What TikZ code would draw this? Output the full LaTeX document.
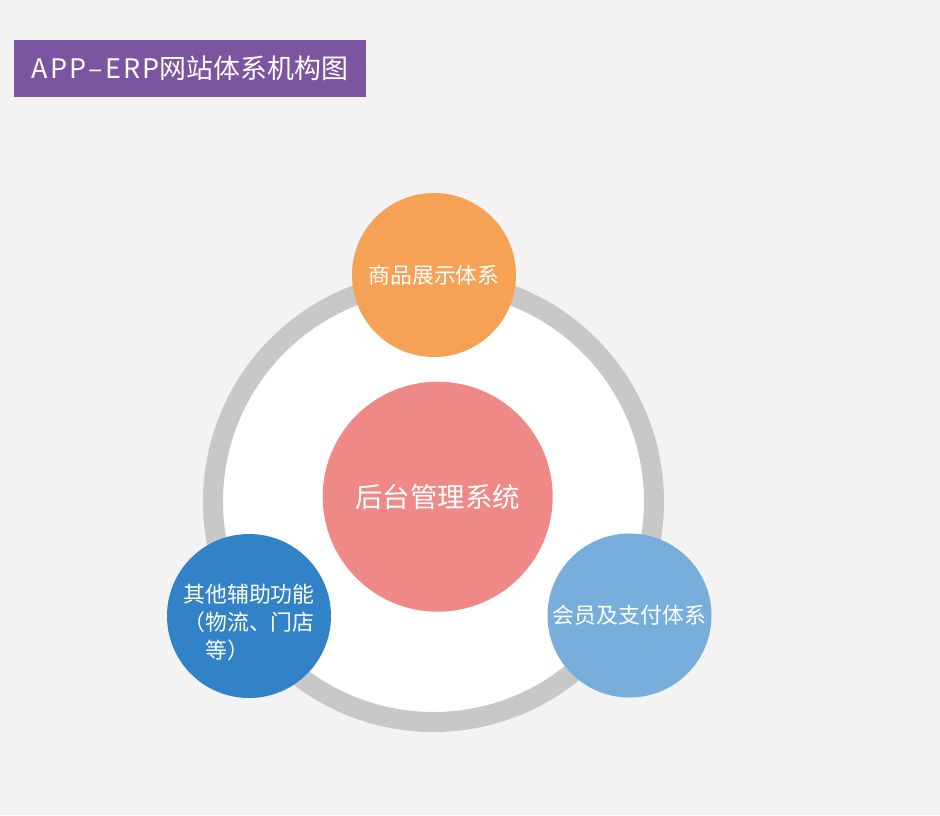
\documentclass[tikz,border=0pt]{standalone}
\usepackage{fontspec}
\setmainfont{Noto Sans CJK SC}
\definecolor{sfondo}{HTML}{F3F3F3}
\definecolor{viola}{HTML}{7B55A0}
\definecolor{anello}{HTML}{C8C8C8}
\definecolor{arancio}{HTML}{F5A156}
\definecolor{rosa}{HTML}{EF8987}
\definecolor{blu}{HTML}{3182C6}
\definecolor{azzurro}{HTML}{78AEDC}
\begin{document}
\begin{tikzpicture}[
    x=0.75pt,
    y=-0.75pt,
    titolo/.style={
        rectangle,
        fill=viola,
        text=white,
        minimum width=264pt,
        minimum height=42.75pt,
        inner sep=0pt,
        font=\fontsize{20.2}{24}\selectfont
    },
    ring/.style={
        circle,
        draw=anello,
        fill=white,
        line width=15pt,
        minimum size=330.75pt,
        inner sep=0pt
    },
    core/.style={
        circle,
        fill=rosa,
        text=white,
        minimum size=172.5pt,
        inner sep=0pt,
        font=\fontsize{20.6}{24}\selectfont
    },
    bubble/.style={
        circle,
        text=white,
        minimum size=123pt,
        inner sep=0pt,
        align=left,
        font=\fontsize{16.4}{21}\selectfont
    },
    testo/.style={
        text=white,
        inner sep=0pt,
        align=left,
        font=\fontsize{16.4}{21}\selectfont
    }
]

% Sfondo
\fill[sfondo] (0,0) rectangle (940,815);
\useasboundingbox (0,0) rectangle (940,815);

% Titolo
\node[titolo] (title) at (190,68.5) {{\addfontfeature{LetterSpace=9}APP–ERP}网站体系机构图};

% Anello e centro
\node[ring] (cerchio) at (433.5,501.5) {};
\node[core] (backend) at (437.7,496.7) {后台管理系统};

% Sottosistemi
\node[bubble, fill=arancio] (prodotti) at (434,275) {商品展示体系};
\node[bubble, fill=blu] (altro) at (249,616) {};
\node[testo] (altrotesto) at (249,622) {
    其他辅助功能\\
    （物流、门店\\
    \hspace*{1em}等）
};
\node[bubble, fill=azzurro] (membri) at (629.5,615.5) {会员及支付体系};

\end{tikzpicture}
\end{document}
